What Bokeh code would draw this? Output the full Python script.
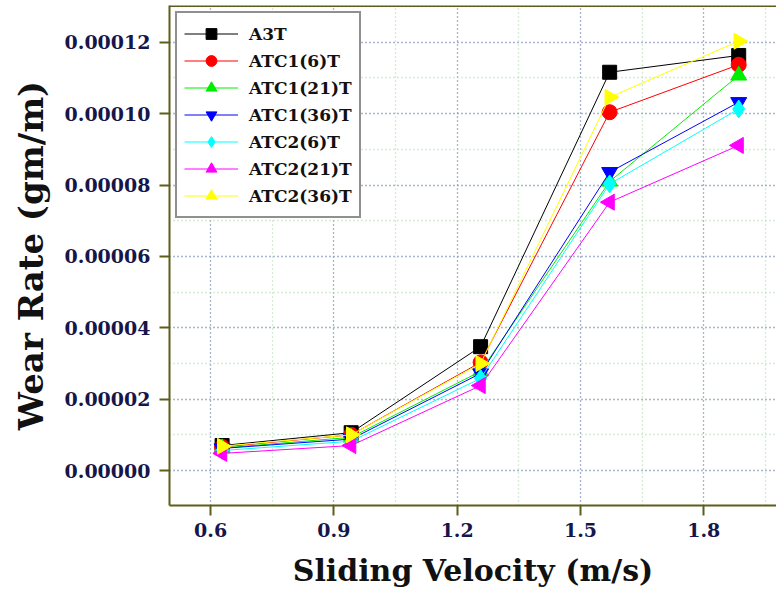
import math
from bokeh.plotting import figure
from bokeh.models import (Range1d, SingleIntervalTicker, PrintfTickFormatter,
                          Legend, LegendItem, Span, ColumnDataSource)
from bokeh.embed import file_html
from bokeh.resources import INLINE

# ---- data ----
velocity = [0.628, 0.942, 1.257, 1.571, 1.885]
series_names = ["A3T", "ATC1(6)T", "ATC1(21)T", "ATC1(36)T", "ATC2(6)T", "ATC2(21)T", "ATC2(36)T"]
a3t      = [7.0e-6, 1.06e-5, 3.47e-5, 1.116e-4, 1.163e-4]
atc1_6   = [6.6e-6, 1.00e-5, 3.03e-5, 1.004e-4, 1.137e-4]
atc1_21  = [6.3e-6, 9.3e-6, 2.78e-5, 8.10e-5, 1.107e-4]
atc1_36  = [6.2e-6, 8.8e-6, 2.72e-5, 8.36e-5, 1.032e-4]
atc2_6   = [5.6e-6, 8.2e-6, 2.58e-5, 8.03e-5, 1.013e-4]
atc2_21  = [4.8e-6, 7.0e-6, 2.38e-5, 7.52e-5, 9.11e-5]
atc2_36  = [6.8e-6, 1.00e-5, 3.00e-5, 1.046e-4, 1.203e-4]
series_values = [a3t, atc1_6, atc1_21, atc1_36, atc2_6, atc2_21, atc2_36]

colors = ["#000000", "#ff0000", "#00ee00", "#0000ff", "#00ffff", "#ff00ff", "#ffff00"]
markers = ["square", "circle", "triangle", "inverted_triangle", "diamond", "triangle", "triangle"]
angles = [0, 0, 0, 0, 0, math.pi / 2, -math.pi / 2]
sizes = [14, 15, 16, 16, 18, 16, 16]

FRAME = "#5e5e1c"
TICKTXT = "#16164a"
FONT = "DejaVu Serif"

p = figure(width=776, height=599, output_backend="svg", toolbar_location=None,
           x_range=Range1d(0.5, 1.977), y_range=Range1d(-0.0000098, 0.0001303),
           min_border_left=169, min_border_right=0, min_border_top=5, min_border_bottom=94)
p.outline_line_color = None
p.background_fill_color = "white"
p.border_fill_color = "white"

p.xaxis.ticker = SingleIntervalTicker(interval=0.3, num_minor_ticks=2)
p.yaxis.ticker = SingleIntervalTicker(interval=0.00002, num_minor_ticks=2)
p.yaxis.formatter = PrintfTickFormatter(format="%.5f")

for ax in (p.xaxis[0], p.yaxis[0]):
    ax.axis_line_color = FRAME
    ax.axis_line_width = 2
    ax.major_tick_line_color = FRAME
    ax.major_tick_line_width = 2
    ax.major_tick_out = 10
    ax.major_tick_in = 0
    ax.minor_tick_line_color = None
    ax.major_label_text_font = FONT
    ax.major_label_text_font_style = "bold"
    ax.major_label_text_font_size = "19px"
    ax.major_label_text_color = TICKTXT
    ax.axis_label_text_font = FONT
    ax.axis_label_text_font_style = "bold"
    ax.axis_label_text_color = "#111111"

p.xaxis.axis_label = "Sliding Velocity (m/s)"
p.xaxis.axis_label_text_font_size = "30px"
p.xaxis.major_label_standoff = 7
p.xaxis.axis_label_standoff = 13
p.yaxis.axis_label = "Wear Rate (gm/m)"
p.yaxis.axis_label_text_font_size = "34px"
p.yaxis.major_label_standoff = 9
p.yaxis.axis_label_standoff = 11

for g in (p.xgrid[0], p.ygrid[0]):
    g.grid_line_color = "#8080cc"
    g.grid_line_dash = "1 3"
    g.grid_line_width = 1.3
    g.minor_grid_line_color = "#a8dca8"
    g.minor_grid_line_dash = "1 3"
    g.minor_grid_line_width = 1.3

top_border = Span(location=0.0001303, dimension="width", line_color=FRAME, line_width=3)
p.add_layout(top_border)

items = []
for name, vals, c, m, a, s in zip(series_names, series_values, colors, markers, angles, sizes):
    src = ColumnDataSource(dict(x=velocity, y=vals))
    r1 = p.line("x", "y", source=src, line_color=c, line_width=1)
    r2 = p.scatter("x", "y", source=src, marker=m, angle=a, size=s,
                   fill_color=c, line_color=c)
    items.append(LegendItem(label=name, renderers=[r1, r2]))

legend = Legend(items=items, location="top_left", margin=6, padding=7,
                glyph_width=54, glyph_height=27, label_height=20, spacing=0,
                label_standoff=11, label_text_font=FONT, label_text_font_style="bold",
                label_text_font_size="17px", label_text_color="#111111",
                border_line_color="#222222", border_line_width=2,
                background_fill_color="white", background_fill_alpha=1)
p.add_layout(legend)

open("out.html", "w").write(file_html(p, INLINE))
